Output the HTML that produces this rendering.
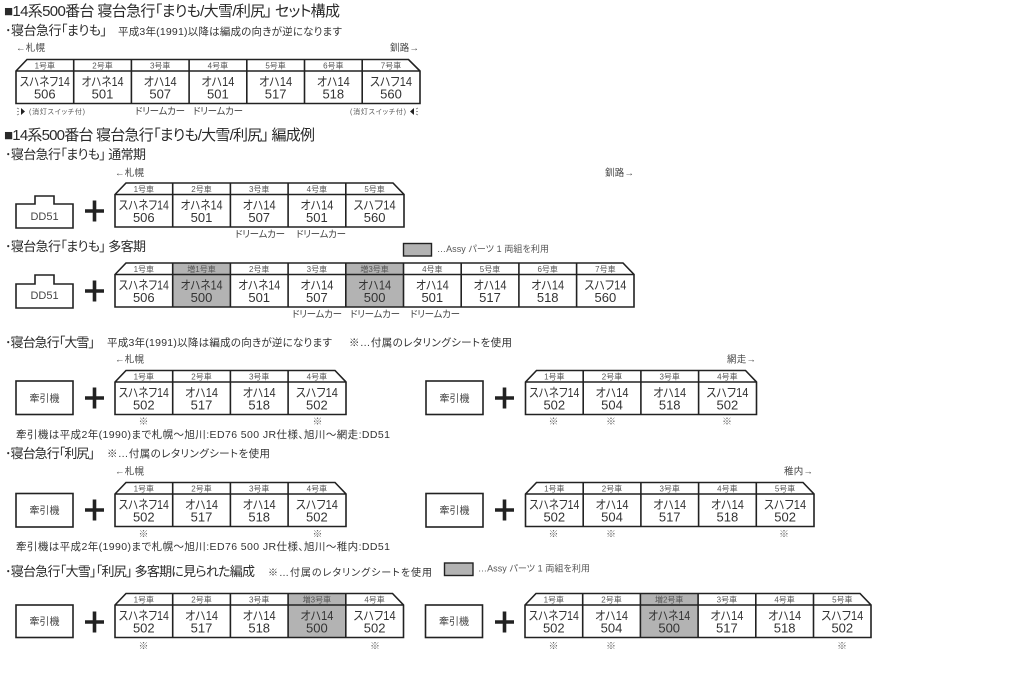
<!DOCTYPE html>
<html lang="ja"><head><meta charset="utf-8"><title>14系500番台</title>
<style>
html,body{margin:0;padding:0;background:#fff}
svg{display:block}
text{font-family:"Liberation Sans","Noto Sans CJK JP",sans-serif;fill:#333;font-feature-settings:"palt"}
.h1{font-size:15px;fill:#2a2a2a}
.h2{font-size:13px;fill:#2a2a2a}
.s{font-size:10.5px}
.d{font-size:9.5px;fill:#444}
.t{font-size:9.5px;fill:#444}
.l{font-size:8px;fill:#555;text-anchor:middle}
.n{font-size:12.5px;fill:#333;text-anchor:middle}
.u{font-size:13px;fill:#333;text-anchor:middle}
.m{font-size:10px;fill:#444;text-anchor:middle}
.k{font-size:9px;fill:#555}
.x{font-size:10px;fill:#666;text-anchor:middle}
.o{fill:none;stroke:#222;stroke-width:1.6}
.g{fill:#b3b3b3}
.b{fill:#fff;stroke:#222;stroke-width:1.6}
.p{fill:#222}
</style></head><body>
<svg width="1024" height="680" viewBox="0 0 1024 680" xmlns="http://www.w3.org/2000/svg">

<!-- Section 1 -->
<text class="h1" x="4" y="16" textLength="336" lengthAdjust="spacing">■14系500番台 寝台急行「まりも/大雪/利尻」 セット構成</text>
<text class="h2" x="5" y="35" textLength="102" lengthAdjust="spacing">･寝台急行「まりも」</text>
<text class="s" x="118" y="35" textLength="224" lengthAdjust="spacing">平成3年(1991)以降は編成の向きが逆になります</text>
<text class="t" x="16" y="51" textLength="29" lengthAdjust="spacing">←札幌</text>
<text class="t" x="390" y="51" textLength="29" lengthAdjust="spacing">釧路→</text>

<g transform="translate(16,59.5)">
<path class="o" d="M0,11.5L11,0H392.5L404,11.5V44H0Z M0,11.5H404 M57.7,0V44 M115.4,0V44 M173.1,0V44 M230.8,0V44 M288.5,0V44 M346.2,0V44"/>
<text class="l" x="28.8" y="9">1号車</text><text class="n" x="28.8" y="26.5" textLength="50" lengthAdjust="spacingAndGlyphs">スハネフ14</text><text class="u" x="28.8" y="39">506</text>
<text class="l" x="86.5" y="9">2号車</text><text class="n" x="86.5" y="26.5" textLength="42" lengthAdjust="spacingAndGlyphs">オハネ14</text><text class="u" x="86.5" y="39">501</text>
<text class="l" x="144.2" y="9">3号車</text><text class="n" x="144.2" y="26.5" textLength="33" lengthAdjust="spacingAndGlyphs">オハ14</text><text class="u" x="144.2" y="39">507</text>
<text class="l" x="201.9" y="9">4号車</text><text class="n" x="201.9" y="26.5" textLength="33" lengthAdjust="spacingAndGlyphs">オハ14</text><text class="u" x="201.9" y="39">501</text>
<text class="l" x="259.6" y="9">5号車</text><text class="n" x="259.6" y="26.5" textLength="33" lengthAdjust="spacingAndGlyphs">オハ14</text><text class="u" x="259.6" y="39">517</text>
<text class="l" x="317.3" y="9">6号車</text><text class="n" x="317.3" y="26.5" textLength="33" lengthAdjust="spacingAndGlyphs">オハ14</text><text class="u" x="317.3" y="39">518</text>
<text class="l" x="375" y="9">7号車</text><text class="n" x="375" y="26.5" textLength="42" lengthAdjust="spacingAndGlyphs">スハフ14</text><text class="u" x="375" y="39">560</text>
</g>

<path d="M21,108L25,111.5L21,115Z" fill="#222"/>
<path d="M17,108l2,1M17,111.5h2M17,115l2,-1" stroke="#777" stroke-width=".8" fill="none"/>
<text class="k" x="29" y="114" style="font-size:7px" textLength="56" lengthAdjust="spacing">(消灯スイッチ付)</text>
<text class="d" x="135" y="114.5" textLength="50" lengthAdjust="spacing">ドリームカー</text>
<text class="d" x="193" y="114.5" textLength="50" lengthAdjust="spacing">ドリームカー</text>
<text class="k" x="350" y="114" style="font-size:7px" textLength="56" lengthAdjust="spacing">(消灯スイッチ付)</text>
<path d="M414,108L410,111.5L414,115Z" fill="#222"/>
<path d="M418,108l-2,1M418,111.5h-2M418,115l-2,-1" stroke="#777" stroke-width=".8" fill="none"/>

<!-- Section 2 -->
<text class="h1" x="4" y="140" textLength="311" lengthAdjust="spacing">■14系500番台 寝台急行「まりも/大雪/利尻」 編成例</text>
<text class="h2" x="5" y="159" textLength="141" lengthAdjust="spacing">･寝台急行「まりも」 通常期</text>
<text class="t" x="115" y="176" textLength="29" lengthAdjust="spacing">←札幌</text>
<text class="t" x="605" y="176" textLength="29" lengthAdjust="spacing">釧路→</text>

<path class="b" d="M16,204H35V196H54V204H73V228H16Z"/>
<text class="m" x="44.5" y="220" style="font-size:11px">DD51</text>
<path class="p" d="M85,209.2H104V212.8H85Z M92.7,200.5H96.3V221.5H92.7Z"/>

<g transform="translate(115,183)">
<path class="o" d="M0,11.5L11,0H278L289,11.5V44H0Z M0,11.5H289 M57.7,0V44 M115.4,0V44 M173.1,0V44 M230.8,0V44"/>
<text class="l" x="28.8" y="9">1号車</text><text class="n" x="28.8" y="26.5" textLength="50" lengthAdjust="spacingAndGlyphs">スハネフ14</text><text class="u" x="28.8" y="39">506</text>
<text class="l" x="86.5" y="9">2号車</text><text class="n" x="86.5" y="26.5" textLength="42" lengthAdjust="spacingAndGlyphs">オハネ14</text><text class="u" x="86.5" y="39">501</text>
<text class="l" x="144.2" y="9">3号車</text><text class="n" x="144.2" y="26.5" textLength="33" lengthAdjust="spacingAndGlyphs">オハ14</text><text class="u" x="144.2" y="39">507</text>
<text class="l" x="201.9" y="9">4号車</text><text class="n" x="201.9" y="26.5" textLength="33" lengthAdjust="spacingAndGlyphs">オハ14</text><text class="u" x="201.9" y="39">501</text>
<text class="l" x="259.6" y="9">5号車</text><text class="n" x="259.6" y="26.5" textLength="42" lengthAdjust="spacingAndGlyphs">スハフ14</text><text class="u" x="259.6" y="39">560</text>
</g>
<text class="d" x="235" y="237.5" textLength="50" lengthAdjust="spacing">ドリームカー</text>
<text class="d" x="296" y="237.5" textLength="50" lengthAdjust="spacing">ドリームカー</text>

<text class="h2" x="5" y="251" textLength="141" lengthAdjust="spacing">･寝台急行「まりも」 多客期</text>
<rect class="g" x="403.5" y="243.5" width="28" height="12.5" stroke="#222" stroke-width="1.4"/>
<text class="k" x="437" y="252" textLength="112" lengthAdjust="spacing">…Assy パーツ 1 両組を利用</text>

<path class="b" d="M16,284H35V275H54V284H73V308H16Z"/>
<text class="m" x="44.5" y="299" style="font-size:11px">DD51</text>
<path class="p" d="M85,289.2H104V292.8H85Z M92.7,280.5H96.3V301.5H92.7Z"/>

<g transform="translate(115,263)">
<rect class="g" x="57.7" y="0" width="57.7" height="44"/>
<rect class="g" x="230.8" y="0" width="57.7" height="44"/>
<path class="o" d="M0,11.5L11,0H508L519,11.5V44H0Z M0,11.5H519 M57.7,0V44 M115.4,0V44 M173.1,0V44 M230.8,0V44 M288.5,0V44 M346.2,0V44 M403.9,0V44 M461.6,0V44"/>
<text class="l" x="28.8" y="9">1号車</text><text class="n" x="28.8" y="26.5" textLength="50" lengthAdjust="spacingAndGlyphs">スハネフ14</text><text class="u" x="28.8" y="39">506</text>
<text class="l" x="86.5" y="9">増1号車</text><text class="n" x="86.5" y="26.5" textLength="42" lengthAdjust="spacingAndGlyphs">オハネ14</text><text class="u" x="86.5" y="39">500</text>
<text class="l" x="144.2" y="9">2号車</text><text class="n" x="144.2" y="26.5" textLength="42" lengthAdjust="spacingAndGlyphs">オハネ14</text><text class="u" x="144.2" y="39">501</text>
<text class="l" x="201.9" y="9">3号車</text><text class="n" x="201.9" y="26.5" textLength="33" lengthAdjust="spacingAndGlyphs">オハ14</text><text class="u" x="201.9" y="39">507</text>
<text class="l" x="259.6" y="9">増3号車</text><text class="n" x="259.6" y="26.5" textLength="33" lengthAdjust="spacingAndGlyphs">オハ14</text><text class="u" x="259.6" y="39">500</text>
<text class="l" x="317.3" y="9">4号車</text><text class="n" x="317.3" y="26.5" textLength="33" lengthAdjust="spacingAndGlyphs">オハ14</text><text class="u" x="317.3" y="39">501</text>
<text class="l" x="375" y="9">5号車</text><text class="n" x="375" y="26.5" textLength="33" lengthAdjust="spacingAndGlyphs">オハ14</text><text class="u" x="375" y="39">517</text>
<text class="l" x="432.7" y="9">6号車</text><text class="n" x="432.7" y="26.5" textLength="33" lengthAdjust="spacingAndGlyphs">オハ14</text><text class="u" x="432.7" y="39">518</text>
<text class="l" x="490.4" y="9">7号車</text><text class="n" x="490.4" y="26.5" textLength="42" lengthAdjust="spacingAndGlyphs">スハフ14</text><text class="u" x="490.4" y="39">560</text>
</g>
<text class="d" x="292" y="317.5" textLength="50" lengthAdjust="spacing">ドリームカー</text>
<text class="d" x="350" y="317.5" textLength="50" lengthAdjust="spacing">ドリームカー</text>
<text class="d" x="410" y="317.5" textLength="50" lengthAdjust="spacing">ドリームカー</text>

<!-- 大雪 -->
<text class="h2" x="5" y="347" textLength="90" lengthAdjust="spacing">･寝台急行「大雪」</text>
<text class="s" x="107" y="346" textLength="225" lengthAdjust="spacing">平成3年(1991)以降は編成の向きが逆になります</text>
<text class="s" x="349" y="346" textLength="163" lengthAdjust="spacing">※…付属のレタリングシートを使用</text>
<text class="t" x="115" y="362.5" textLength="29" lengthAdjust="spacing">←札幌</text>
<text class="t" x="727" y="362.5" textLength="29" lengthAdjust="spacing">網走→</text>

<rect class="b" x="16" y="381" width="57" height="33.5"/>
<text class="m" x="44.5" y="402">牽引機</text>
<path class="p" d="M85,396.2H104V399.8H85Z M92.7,387.5H96.3V408.5H92.7Z"/>
<g transform="translate(115,370.5)">
<path class="o" d="M0,11.5L11,0H220L231,11.5V44H0Z M0,11.5H231 M57.7,0V44 M115.4,0V44 M173.1,0V44"/>
<text class="l" x="28.8" y="9">1号車</text><text class="n" x="28.8" y="26.5" textLength="50" lengthAdjust="spacingAndGlyphs">スハネフ14</text><text class="u" x="28.8" y="39">502</text>
<text class="l" x="86.5" y="9">2号車</text><text class="n" x="86.5" y="26.5" textLength="33" lengthAdjust="spacingAndGlyphs">オハ14</text><text class="u" x="86.5" y="39">517</text>
<text class="l" x="144.2" y="9">3号車</text><text class="n" x="144.2" y="26.5" textLength="33" lengthAdjust="spacingAndGlyphs">オハ14</text><text class="u" x="144.2" y="39">518</text>
<text class="l" x="201.9" y="9">4号車</text><text class="n" x="201.9" y="26.5" textLength="42" lengthAdjust="spacingAndGlyphs">スハフ14</text><text class="u" x="201.9" y="39">502</text>
</g>
<rect class="b" x="426" y="381" width="57" height="33.5"/>
<text class="m" x="454.5" y="402">牽引機</text>
<path class="p" d="M495,396.2H514V399.8H495Z M502.7,387.5H506.3V408.5H502.7Z"/>
<g transform="translate(525.5,370.5)">
<path class="o" d="M0,11.5L11,0H220L231,11.5V44H0Z M0,11.5H231 M57.7,0V44 M115.4,0V44 M173.1,0V44"/>
<text class="l" x="28.8" y="9">1号車</text><text class="n" x="28.8" y="26.5" textLength="50" lengthAdjust="spacingAndGlyphs">スハネフ14</text><text class="u" x="28.8" y="39">502</text>
<text class="l" x="86.5" y="9">2号車</text><text class="n" x="86.5" y="26.5" textLength="33" lengthAdjust="spacingAndGlyphs">オハ14</text><text class="u" x="86.5" y="39">504</text>
<text class="l" x="144.2" y="9">3号車</text><text class="n" x="144.2" y="26.5" textLength="33" lengthAdjust="spacingAndGlyphs">オハ14</text><text class="u" x="144.2" y="39">518</text>
<text class="l" x="201.9" y="9">4号車</text><text class="n" x="201.9" y="26.5" textLength="42" lengthAdjust="spacingAndGlyphs">スハフ14</text><text class="u" x="201.9" y="39">502</text>
</g>
<text class="x" x="143.5" y="425">※</text><text class="x" x="317.5" y="425">※</text>
<text class="x" x="553.5" y="425">※</text><text class="x" x="611" y="425">※</text><text class="x" x="727" y="425">※</text>
<text class="s" x="16" y="438" textLength="374" lengthAdjust="spacing">牽引機は平成2年(1990)まで札幌〜旭川:ED76 500 JR仕様、旭川〜網走:DD51</text>

<!-- 利尻 -->
<text class="h2" x="5" y="458" textLength="90" lengthAdjust="spacing">･寝台急行「利尻」</text>
<text class="s" x="107" y="457" textLength="163" lengthAdjust="spacing">※…付属のレタリングシートを使用</text>
<text class="t" x="115" y="474.5" textLength="29" lengthAdjust="spacing">←札幌</text>
<text class="t" x="784" y="474.5" textLength="29" lengthAdjust="spacing">稚内→</text>

<rect class="b" x="16" y="493.5" width="57" height="33.5"/>
<text class="m" x="44.5" y="514">牽引機</text>
<path class="p" d="M85,508.2H104V511.8H85Z M92.7,499.5H96.3V520.5H92.7Z"/>
<g transform="translate(115,482.5)">
<path class="o" d="M0,11.5L11,0H220L231,11.5V44H0Z M0,11.5H231 M57.7,0V44 M115.4,0V44 M173.1,0V44"/>
<text class="l" x="28.8" y="9">1号車</text><text class="n" x="28.8" y="26.5" textLength="50" lengthAdjust="spacingAndGlyphs">スハネフ14</text><text class="u" x="28.8" y="39">502</text>
<text class="l" x="86.5" y="9">2号車</text><text class="n" x="86.5" y="26.5" textLength="33" lengthAdjust="spacingAndGlyphs">オハ14</text><text class="u" x="86.5" y="39">517</text>
<text class="l" x="144.2" y="9">3号車</text><text class="n" x="144.2" y="26.5" textLength="33" lengthAdjust="spacingAndGlyphs">オハ14</text><text class="u" x="144.2" y="39">518</text>
<text class="l" x="201.9" y="9">4号車</text><text class="n" x="201.9" y="26.5" textLength="42" lengthAdjust="spacingAndGlyphs">スハフ14</text><text class="u" x="201.9" y="39">502</text>
</g>
<rect class="b" x="426" y="493.5" width="57" height="33.5"/>
<text class="m" x="454.5" y="514">牽引機</text>
<path class="p" d="M495,508.2H514V511.8H495Z M502.7,499.5H506.3V520.5H502.7Z"/>
<g transform="translate(525.5,482.5)">
<path class="o" d="M0,11.5L11,0H277.5L288.5,11.5V44H0Z M0,11.5H288.5 M57.7,0V44 M115.4,0V44 M173.1,0V44 M230.8,0V44"/>
<text class="l" x="28.8" y="9">1号車</text><text class="n" x="28.8" y="26.5" textLength="50" lengthAdjust="spacingAndGlyphs">スハネフ14</text><text class="u" x="28.8" y="39">502</text>
<text class="l" x="86.5" y="9">2号車</text><text class="n" x="86.5" y="26.5" textLength="33" lengthAdjust="spacingAndGlyphs">オハ14</text><text class="u" x="86.5" y="39">504</text>
<text class="l" x="144.2" y="9">3号車</text><text class="n" x="144.2" y="26.5" textLength="33" lengthAdjust="spacingAndGlyphs">オハ14</text><text class="u" x="144.2" y="39">517</text>
<text class="l" x="201.9" y="9">4号車</text><text class="n" x="201.9" y="26.5" textLength="33" lengthAdjust="spacingAndGlyphs">オハ14</text><text class="u" x="201.9" y="39">518</text>
<text class="l" x="259.6" y="9">5号車</text><text class="n" x="259.6" y="26.5" textLength="42" lengthAdjust="spacingAndGlyphs">スハフ14</text><text class="u" x="259.6" y="39">502</text>
</g>
<text class="x" x="143.5" y="537.5">※</text><text class="x" x="317.5" y="537.5">※</text>
<text class="x" x="553.5" y="537.5">※</text><text class="x" x="611" y="537.5">※</text><text class="x" x="784" y="537.5">※</text>
<text class="s" x="16" y="550" textLength="374" lengthAdjust="spacing">牽引機は平成2年(1990)まで札幌〜旭川:ED76 500 JR仕様、旭川〜稚内:DD51</text>

<!-- 多客期 -->
<text class="h2" x="5" y="576" textLength="250" lengthAdjust="spacing">･寝台急行「大雪」「利尻」 多客期に見られた編成</text>
<text class="s" x="268" y="576" style="font-size:10px" textLength="164" lengthAdjust="spacing">※…付属のレタリングシートを使用</text>
<rect class="g" x="444.5" y="563" width="28.5" height="12.5" stroke="#222" stroke-width="1.4"/>
<text class="k" x="478" y="571.5" textLength="112" lengthAdjust="spacing">…Assy パーツ 1 両組を利用</text>

<rect class="b" x="16" y="605" width="57" height="32.5"/>
<text class="m" x="44.5" y="625">牽引機</text>
<path class="p" d="M85,620.2H104V623.8H85Z M92.7,611.5H96.3V632.5H92.7Z"/>
<g transform="translate(115,593.5)">
<rect class="g" x="173.1" y="0" width="57.7" height="44"/>
<path class="o" d="M0,11.5L11,0H277.5L288.5,11.5V44H0Z M0,11.5H288.5 M57.7,0V44 M115.4,0V44 M173.1,0V44 M230.8,0V44"/>
<text class="l" x="28.8" y="9">1号車</text><text class="n" x="28.8" y="26.5" textLength="50" lengthAdjust="spacingAndGlyphs">スハネフ14</text><text class="u" x="28.8" y="39">502</text>
<text class="l" x="86.5" y="9">2号車</text><text class="n" x="86.5" y="26.5" textLength="33" lengthAdjust="spacingAndGlyphs">オハ14</text><text class="u" x="86.5" y="39">517</text>
<text class="l" x="144.2" y="9">3号車</text><text class="n" x="144.2" y="26.5" textLength="33" lengthAdjust="spacingAndGlyphs">オハ14</text><text class="u" x="144.2" y="39">518</text>
<text class="l" x="201.9" y="9">増3号車</text><text class="n" x="201.9" y="26.5" textLength="33" lengthAdjust="spacingAndGlyphs">オハ14</text><text class="u" x="201.9" y="39">500</text>
<text class="l" x="259.6" y="9">4号車</text><text class="n" x="259.6" y="26.5" textLength="42" lengthAdjust="spacingAndGlyphs">スハフ14</text><text class="u" x="259.6" y="39">502</text>
</g>
<rect class="b" x="425.5" y="605" width="57" height="32.5"/>
<text class="m" x="454" y="625">牽引機</text>
<path class="p" d="M495,620.2H514V623.8H495Z M502.7,611.5H506.3V632.5H502.7Z"/>
<g transform="translate(525,593.5)">
<rect class="g" x="115.4" y="0" width="57.7" height="44"/>
<path class="o" d="M0,11.5L11,0H335L346,11.5V44H0Z M0,11.5H346 M57.7,0V44 M115.4,0V44 M173.1,0V44 M230.8,0V44 M288.5,0V44"/>
<text class="l" x="28.8" y="9">1号車</text><text class="n" x="28.8" y="26.5" textLength="50" lengthAdjust="spacingAndGlyphs">スハネフ14</text><text class="u" x="28.8" y="39">502</text>
<text class="l" x="86.5" y="9">2号車</text><text class="n" x="86.5" y="26.5" textLength="33" lengthAdjust="spacingAndGlyphs">オハ14</text><text class="u" x="86.5" y="39">504</text>
<text class="l" x="144.2" y="9">増2号車</text><text class="n" x="144.2" y="26.5" textLength="42" lengthAdjust="spacingAndGlyphs">オハネ14</text><text class="u" x="144.2" y="39">500</text>
<text class="l" x="201.9" y="9">3号車</text><text class="n" x="201.9" y="26.5" textLength="33" lengthAdjust="spacingAndGlyphs">オハ14</text><text class="u" x="201.9" y="39">517</text>
<text class="l" x="259.6" y="9">4号車</text><text class="n" x="259.6" y="26.5" textLength="33" lengthAdjust="spacingAndGlyphs">オハ14</text><text class="u" x="259.6" y="39">518</text>
<text class="l" x="317.3" y="9">5号車</text><text class="n" x="317.3" y="26.5" textLength="42" lengthAdjust="spacingAndGlyphs">スハフ14</text><text class="u" x="317.3" y="39">502</text>
</g>
<text class="x" x="143.5" y="649.5">※</text><text class="x" x="375" y="649.5">※</text>
<text class="x" x="553.5" y="649.5">※</text><text class="x" x="611" y="649.5">※</text><text class="x" x="842" y="649.5">※</text>
</svg>
</body></html>
